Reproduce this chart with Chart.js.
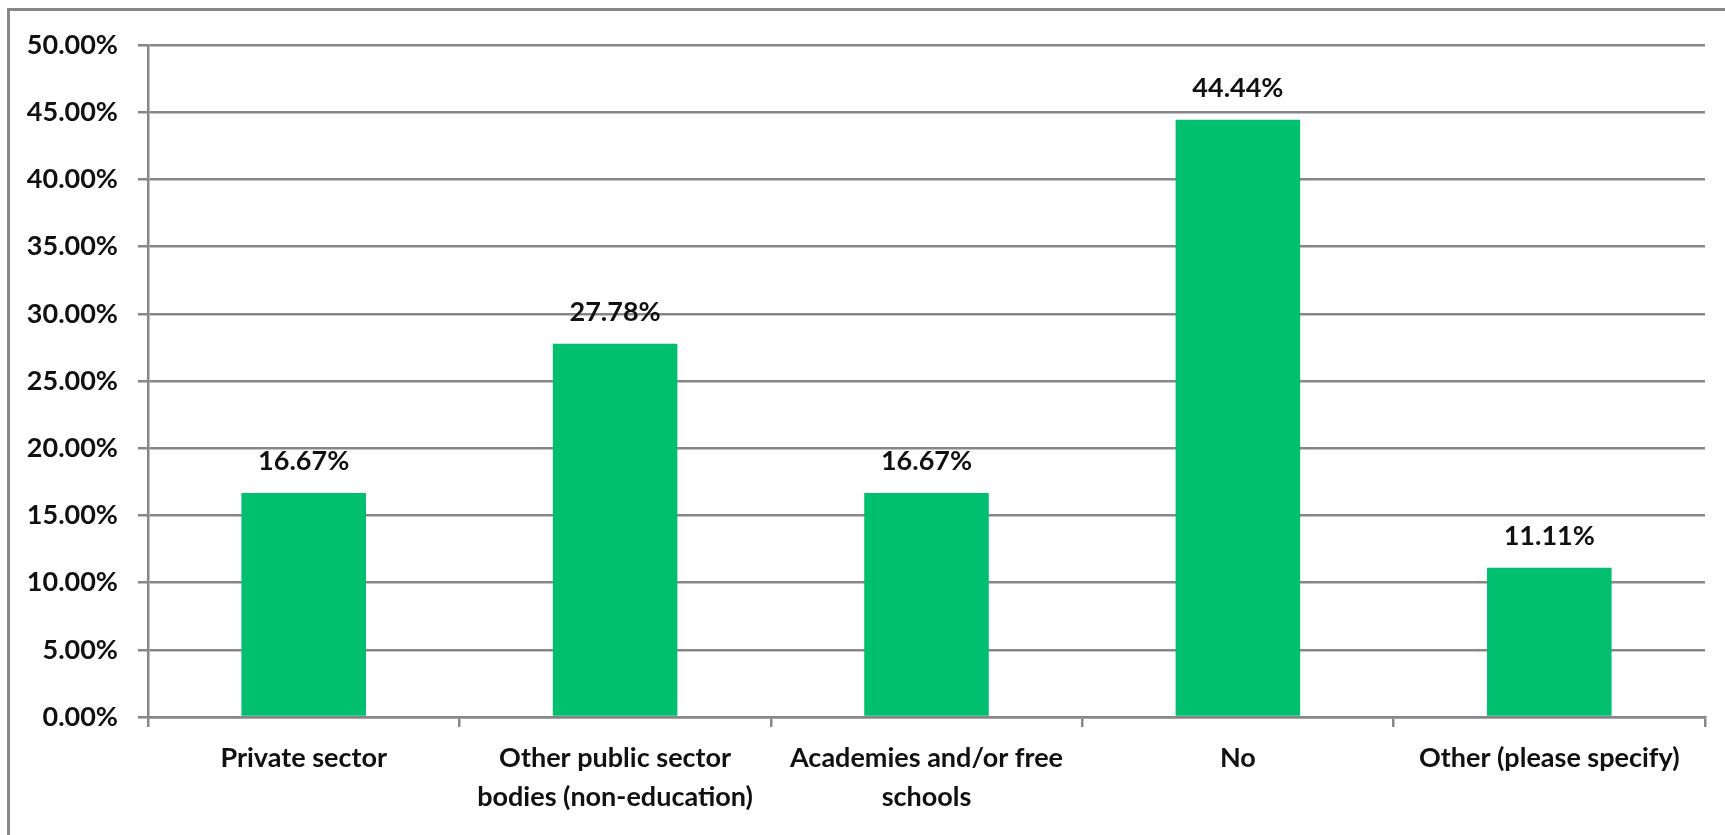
<!DOCTYPE html>
<html>
<head>
<meta charset="utf-8">
<script src="https://cdn.jsdelivr.net/npm/chart.js@4/dist/chart.umd.min.js"></script>
<style>
  html, body { margin: 0; padding: 0; background: #fff; overflow: hidden; }
  #frame {
    position: absolute; left: 7px; top: 8px; width: 1740px; height: 850px;
    border: 3px solid #878787; box-sizing: border-box;
  }
  #trafficChart { position: absolute; left: 0; top: 0; }
</style>
</head>
<body>
<div id="frame"></div>
<canvas id="trafficChart" width="1725" height="835"></canvas>
<script>
const categories = [
  'Private sector',
  ['Other public sector', 'bodies (non-education)'],
  ['Academies and/or free', 'schools'],
  'No',
  'Other (please specify)'
];
const shares = [16.67, 27.78, 16.67, 44.44, 11.11];
const yTicks = [0, 5, 10, 15, 20, 25, 30, 35, 40, 45, 50];

const FONT = 'Lato, "Open Sans", sans-serif';
const GRID = '#878787';

// value labels above each bar
const barLabels = {
  id: 'barLabels',
  afterDatasetsDraw(chart) {
    const ctx = chart.ctx;
    const meta = chart.getDatasetMeta(0);
    ctx.save();
    ctx.font = 'bold 27px ' + FONT;
    ctx.fillStyle = '#111';
    ctx.textAlign = 'center';
    ctx.textBaseline = 'alphabetic';
    meta.data.forEach((bar, i) => {
      ctx.fillText(shares[i].toFixed(2) + '%', bar.x, bar.y - 23);
    });
    ctx.restore();
  }
};

document.addEventListener('DOMContentLoaded', () => {
  const ctx = document.getElementById('trafficChart').getContext('2d');
  new Chart(ctx, {
    type: 'bar',
    data: {
      labels: categories,
      datasets: [{
        data: shares,
        backgroundColor: '#00BF6F',
        barPercentage: 0.4,
        categoryPercentage: 1.0
      }]
    },
    options: {
      responsive: false,
      animation: false,
      layout: { padding: { top: 45, right: 20, bottom: 0, left: 0 } },
      plugins: { legend: { display: false }, tooltip: { enabled: false } },
      scales: {
        x: {
          afterFit: s => { s.height = 118; },
          grid: {
            offset: true,
            drawOnChartArea: false,
            drawTicks: true,
            tickLength: 10,
            color: GRID,
            lineWidth: 2.5
          },
          border: { color: GRID, width: 2.5 },
          ticks: {
            color: '#111',
            padding: 12,
            maxRotation: 0,
            autoSkip: false,
            font: { family: FONT, size: 27, weight: 'bold', lineHeight: 1.44 }
          }
        },
        y: {
          min: 0,
          max: 50,
          afterFit: s => { s.width = 148; },
          afterBuildTicks: s => { s.ticks = yTicks.map(v => ({ value: v })); },
          grid: { color: GRID, lineWidth: 2.5, tickLength: 10 },
          border: { color: GRID, width: 2.5 },
          ticks: {
            color: '#111',
            padding: 20,
            font: { family: FONT, size: 27, weight: 'bold' },
            callback: v => v.toFixed(2) + '%'
          }
        }
      }
    },
    plugins: [barLabels]
  });
});
</script>
</body>
</html>
